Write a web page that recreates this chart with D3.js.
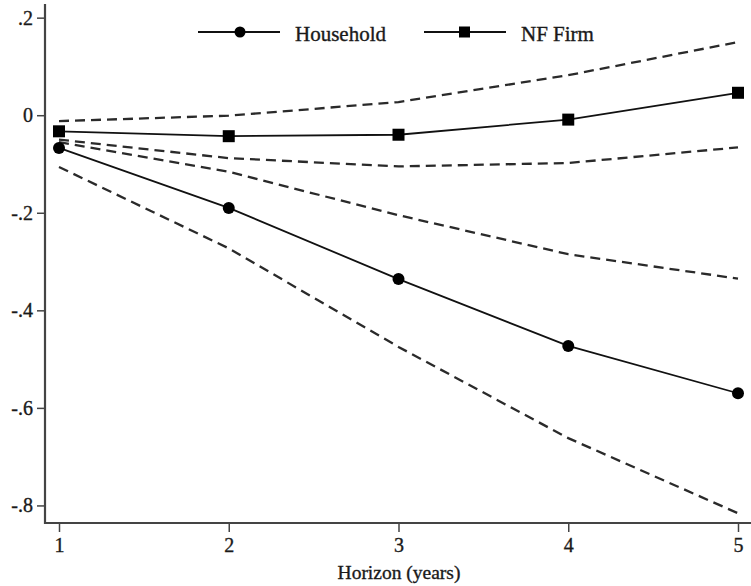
<!DOCTYPE html>
<html>
<head>
<meta charset="utf-8">
<script src="https://cdn.jsdelivr.net/npm/d3@7"></script>
<style>
  body { margin: 0; background: #fff; }
  svg { display: block; }
</style>
</head>
<body>
<div id="chart"></div>
<script>
// values
var horizons = [1, 2, 3, 4, 5];
var household = [-0.067, -0.190, -0.336, -0.473, -0.570];
var householdUpper = [-0.055, -0.116, -0.205, -0.285, -0.335];
var householdLower = [-0.106, -0.273, -0.475, -0.662, -0.816];
var nfFirm = [-0.033, -0.043, -0.040, -0.009, 0.046];
var nfUpper = [-0.012, -0.001, 0.027, 0.082, 0.150];
var nfLower = [-0.050, -0.088, -0.105, -0.098, -0.066];
var yTicks = [-0.8, -0.6, -0.4, -0.2, 0, 0.2];
var seriesNames = ["Household", "NF Firm"];

var width = 751, height = 586;

var svg = d3.select('#chart')
	.append('svg')
	.attr('width', width)
	.attr('height', height);

var x = d3.scaleLinear().domain([1, 5]).range([59, 738]);
var y = d3.scaleLinear().domain([-0.836, 0.228]).range([523, 4]);

// tick labels like ".2", "0", "-.2" (plain hyphen, no leading zero)
function fmt(d){
	if (d === 0) return "0";
	var s = Math.abs(d).toFixed(1).replace("0.", ".");
	return (d < 0 ? "-" : "") + s;
}

// small helper so all text looks the same
function styleText(sel, size){
	sel.attr('font-family', 'Liberation Serif')
		.attr('font-size', size)
		.attr('fill', '#1a1a1a')
		.attr('stroke', '#1a1a1a')
		.attr('stroke-width', 0.35);
}

// y axis
var yAxis = svg.append('g')
	.attr('transform', 'translate(45,0)')
	.call(d3.axisLeft(y).tickValues(yTicks).tickFormat(fmt).tickSize(8).tickPadding(4));
yAxis.select('.domain').remove();
yAxis.selectAll('line').attr('stroke', '#444').attr('stroke-width', 1.5);
styleText(yAxis.selectAll('text'), '20px');

// x axis
var xAxis = svg.append('g')
	.attr('transform', 'translate(0,523)')
	.call(d3.axisBottom(x).tickValues(horizons).tickFormat(d3.format('d')).tickSize(9).tickPadding(6));
xAxis.select('.domain').remove();
xAxis.selectAll('line').attr('stroke', '#444').attr('stroke-width', 1.5);
styleText(xAxis.selectAll('text'), '20px');

// axis lines drawn a bit longer than the ticks, like the original
svg.append('line')
	.attr('x1', 45).attr('x2', 45)
	.attr('y1', y.range()[1]).attr('y2', 524)
	.attr('stroke', '#444').attr('stroke-width', 2.2);
svg.append('line')
	.attr('x1', 44).attr('x2', width)
	.attr('y1', 523).attr('y2', 523)
	.attr('stroke', '#444').attr('stroke-width', 2.2);

var xTitle = svg.append('text')
	.attr('x', 399)
	.attr('y', 579)
	.attr('text-anchor', 'middle')
	.text('Horizon (years)');
styleText(xTitle, '19.5px');

var line = d3.line()
	.x(function(d, i){ return x(horizons[i]); })
	.y(function(d){ return y(d); });

// confidence bands (dashed)
[householdUpper, householdLower, nfUpper, nfLower].forEach(function(band){
	svg.append('path')
		.datum(band)
		.attr('d', line)
		.attr('fill', 'none')
		.attr('stroke', '#2a2a2a')
		.attr('stroke-width', 2.3)
		.attr('stroke-dasharray', '10,6');
});

// point estimates
[household, nfFirm].forEach(function(s){
	svg.append('path')
		.datum(s)
		.attr('d', line)
		.attr('fill', 'none')
		.attr('stroke', '#111')
		.attr('stroke-width', 1.8);
});

svg.selectAll('circle.hh')
	.data(household)
	.enter().append('circle')
	.attr('class', 'hh')
	.attr('cx', function(d, i){ return x(horizons[i]); })
	.attr('cy', function(d){ return y(d); })
	.attr('r', 6)
	.attr('fill', '#000');

svg.selectAll('rect.nf')
	.data(nfFirm)
	.enter().append('rect')
	.attr('class', 'nf')
	.attr('x', function(d, i){ return x(horizons[i]) - 6; })
	.attr('y', function(d){ return y(d) - 6; })
	.attr('width', 12)
	.attr('height', 12)
	.attr('fill', '#000');

// legend
var legend = svg.append('g').attr('transform', 'translate(0,32)');
var legendX = [198, 424];
seriesNames.forEach(function(name, i){
	var x0 = legendX[i];
	legend.append('line')
		.attr('x1', x0).attr('x2', x0 + 82)
		.attr('y1', 0).attr('y2', 0)
		.attr('stroke', '#111').attr('stroke-width', 1.8);
	if (i === 0){
		legend.append('circle').attr('cx', x0 + 42).attr('cy', 0).attr('r', 5.5).attr('fill', '#000');
	}
	else {
		legend.append('rect').attr('x', x0 + 35).attr('y', -5.5).attr('width', 11).attr('height', 11).attr('fill', '#000');
	}
	var t = legend.append('text')
		.attr('x', x0 + 97)
		.attr('y', 9)
		.text(name);
	styleText(t, '21px');
});
</script>
</body>
</html>
